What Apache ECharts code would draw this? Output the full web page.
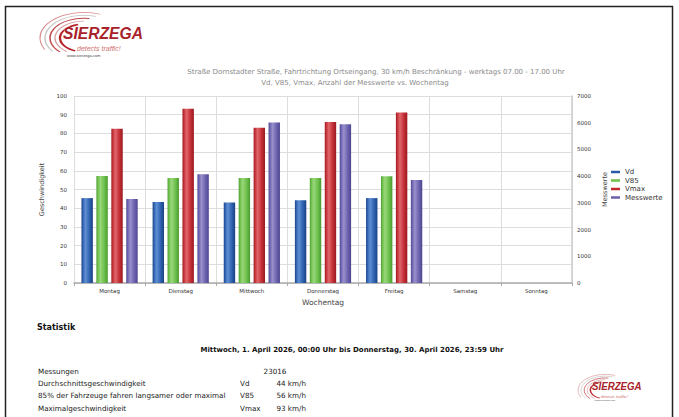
<!DOCTYPE html>
<html>
<head>
<meta charset="utf-8">
<script src="https://cdn.jsdelivr.net/npm/echarts@6/dist/echarts.min.js"></script>
<style>
html,body{margin:0;padding:0;background:#fff;}
#chart{width:679px;height:417px;}
</style>
</head>
<body>
<div id="chart"></div>
<script>
var categories = ['Montag','Dienstag','Mittwoch','Donnerstag','Freitag','Samstag','Sonntag'];
var vd        = [45.4, 43.3, 43.0, 44.3, 45.4, null, null];
var v85       = [57.2, 56.1, 56.1, 56.1, 57.1, null, null];
var vmax      = [82.5, 93.2, 83.0, 86.1, 91.2, null, null];
var messwerte = [3140, 4070, 6010, 5940, 3856, null, null];
var speedTicks = {min:0, max:100, interval:10};
var countTicks = {min:0, max:7000, interval:1000};
var titleLine1 = 'Straße Dornstadter Straße, Fahrtrichtung Ortseingang, 30 km/h Beschränkung - werktags 07.00 - 17.00 Uhr';
var titleLine2 = 'Vd, V85, Vmax, Anzahl der Messwerte vs. Wochentag';
var statLabels = ['Messungen','Durchschnittsgeschwindigkeit','85% der Fahrzeuge fahren langsamer oder maximal','Maximalgeschwindigkeit'];
var statSymbols = ['', 'Vd', 'V85', 'Vmax'];
var statValues = ['23016', '44 km/h', '56 km/h', '93 km/h'];
var period = 'Mittwoch, 1. April 2026, 00:00 Uhr bis Donnerstag, 30. April 2026, 23:59 Uhr';

var FONT = 'DejaVu Sans';
function grad(dark, light, mid){
  return {type:'linear', x:0, y:0, x2:1, y2:0, colorStops:[
    {offset:0, color:dark},{offset:0.12, color:mid},{offset:0.35, color:light},
    {offset:0.7, color:mid},{offset:1, color:dark}]};
}
var C = {
  vd:  {base:'#2b5ca8', g:grad('#1a4185','#5f8fd2','#2f62b0')},
  v85: {base:'#6cc04a', g:grad('#4a9a30','#9ad67c','#6cc04a')},
  vmax:{base:'#c0282e', g:grad('#9a1a20','#e0666a','#c33036')},
  mw:  {base:'#6a60ab', g:grad('#4d4590','#9990cc','#6d64b0')}
};

function logo(x, y, s){
  var arcCh = [];
  var arcs = [
    {r:24, c:'#b8242c', w:2.4, a0:0.62, a1:1.42},
    {r:29, c:'#d6a4a4', w:1.5, a0:0.7, a1:1.5},
    {r:34, c:'#c0484c', w:1.5, a0:0.75, a1:1.55},
    {r:39, c:'#c4c4c4', w:1.4, a0:0.8, a1:1.6},
    {r:44, c:'#d88888', w:1.2, a0:0.85, a1:1.62}
  ];
  arcs.forEach(function(a){
    arcCh.push({type:'arc', shape:{cx:0, cy:0, r:a.r, startAngle:Math.PI*a.a0, endAngle:Math.PI*a.a1, clockwise:true},
      style:{stroke:a.c, lineWidth:a.w, fill:null}});
  });
  var ch = [{type:'group', x:47, y:26, scaleY:0.58, children:arcCh}];
  ch.push({type:'text', x:26, y:12, scaleX:0.92, style:{text:'SIERZEGA', font:'bold italic 17px "Liberation Sans"', fill:'#a8232b', stroke:'#fff', lineWidth:0.5}});
  ch.push({type:'text', x:40, y:33, style:{text:'detects traffic!', font:'italic 7px "Liberation Sans"', fill:'#d07070'}});
  ch.push({type:'text', x:30, y:41, style:{text:'www.sierzega.com', font:'4px "Liberation Sans"', fill:'#444'}});
  return {type:'group', x:x, y:y, scaleX:s, scaleY:s, children:ch};
}

var graphics = [];
graphics.push({type:'rect', shape:{x:5.5, y:6.5, width:667, height:420}, style:{fill:null, stroke:'#222', lineWidth:1.5}, silent:true});
graphics.push(logo(37, 12, 1));
graphics.push(logo(576, 374, 0.62));
graphics.push({type:'text', x:376, y:68, style:{text:titleLine1, font:'7px "'+FONT+'"', fill:'#8a8a8a', align:'center'}});
graphics.push({type:'text', x:355, y:79, style:{text:titleLine2, font:'7px "'+FONT+'"', fill:'#8a8a8a', align:'center'}});
graphics.push({type:'text', x:37, y:323, style:{text:'Statistik', font:'bold 8px "'+FONT+'"', fill:'#111'}});
graphics.push({type:'text', x:352, y:346, style:{text:period, font:'bold 7px "'+FONT+'"', fill:'#111', align:'center'}});
for (var i=0;i<statLabels.length;i++){
  var yy = 368 + i*12.2;
  graphics.push({type:'text', x:38, y:yy, style:{text:statLabels[i], font:'7.2px "'+FONT+'"', fill:'#222'}});
  if (statSymbols[i]) graphics.push({type:'text', x:240, y:yy, style:{text:statSymbols[i], font:'7.2px "'+FONT+'"', fill:'#222'}});
  graphics.push({type:'text', x: i===0 ? 275 : 306, y:yy, style:{text:statValues[i], font:'7.2px "'+FONT+'"', fill:'#222', align: i===0 ? 'center' : 'right'}});
}

var chart = echarts.init(document.getElementById('chart'), null, {renderer:'svg'});
var barW = 11.4;
function bar(name, data, col, axisIdx){
  return {name:name, type:'bar', data:data, yAxisIndex:axisIdx, barWidth:barW, barGap:'31%',
    itemStyle:{color:col.g}, emphasis:{disabled:true}};
}
chart.setOption({
  animation:false,
  textStyle:{fontFamily:FONT},
  graphic:graphics,
  legend:{orient:'vertical', left:606, top:163, icon:'rect', itemWidth:9, itemHeight:2.5, itemGap:0.5,
    textStyle:{fontSize:7, lineHeight:8, color:'#333', fontFamily:FONT},
    data:[{name:'Vd', itemStyle:{color:C.vd.base}},{name:'V85', itemStyle:{color:C.v85.base}},
          {name:'Vmax', itemStyle:{color:C.vmax.base}},{name:'Messwerte', itemStyle:{color:C.mw.base}}]},
  grid:{left:74, right:107, top:96, bottom:134},
  xAxis:{type:'category', data:categories, name:'Wochentag', nameLocation:'middle', nameGap:15,
    nameTextStyle:{fontSize:7.5, color:'#444'},
    axisLine:{lineStyle:{color:'#aaa', width:1.5}},
    axisTick:{show:true, length:3, lineStyle:{color:'#aaa'}},
    axisLabel:{fontSize:5.5, color:'#333', margin:5},
    splitLine:{show:true, lineStyle:{color:'#ddd', width:1}}},
  yAxis:[
    {type:'value', min:speedTicks.min, max:speedTicks.max, interval:speedTicks.interval, name:'Geschwindigkeit',
     nameLocation:'middle', nameGap:22, nameRotate:90, nameTextStyle:{fontSize:6.5, color:'#444'},
     axisLine:{show:true, lineStyle:{color:'#ddd'}}, axisTick:{show:false},
     axisLabel:{fontSize:5.5, color:'#333', margin:7},
     splitLine:{show:true, lineStyle:{color:'#ddd', width:1}}},
    {type:'value', min:countTicks.min, max:countTicks.max, interval:countTicks.interval, name:'Messwerte',
     nameLocation:'middle', nameGap:24, nameRotate:90, nameTextStyle:{fontSize:6.5, color:'#444'},
     axisLine:{show:true, lineStyle:{color:'#ccc', width:1.5}}, axisTick:{show:false},
     axisLabel:{fontSize:5.5, color:'#333', margin:5, formatter:function(v){return String(v);}},
     splitLine:{show:false}}
  ],
  series:[
    bar('Vd', vd, C.vd, 0),
    bar('V85', v85, C.v85, 0),
    bar('Vmax', vmax, C.vmax, 0),
    bar('Messwerte', messwerte, C.mw, 1)
  ]
});
</script>
</body>
</html>
